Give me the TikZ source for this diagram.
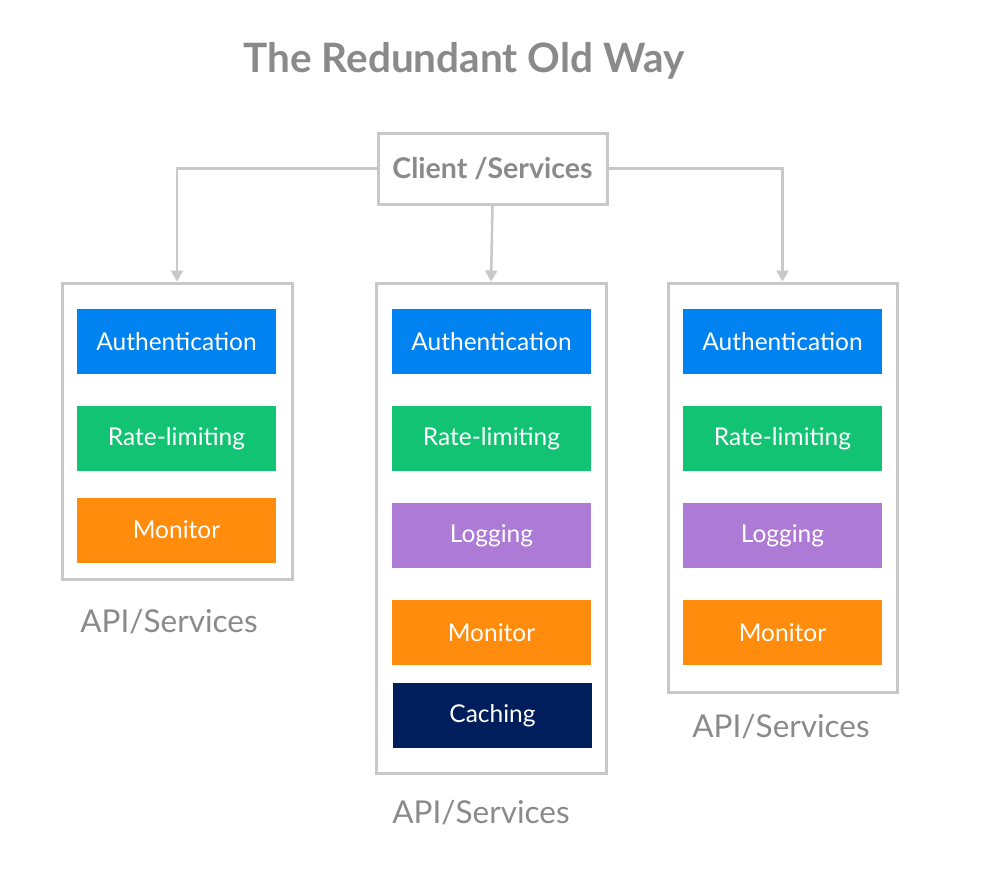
\documentclass[tikz,border=0pt]{standalone}
\usepackage{fontspec}
\setmainfont{Lato}
\usetikzlibrary{arrows.meta}
\definecolor{lgray}{HTML}{C8C8C8}
\definecolor{tgray}{HTML}{8A8A8A}
\definecolor{cblue}{HTML}{0082F0}
\definecolor{cgreen}{HTML}{13C374}
\definecolor{corange}{HTML}{FF8C0D}
\definecolor{cpurple}{HTML}{AD7BD6}
\definecolor{cnavy}{HTML}{001E5C}
\tikzset{
  container/.style={draw=lgray, line width=3pt, fill=white, inner sep=0pt},
  module/.style={inner sep=0pt, minimum width=199pt, minimum height=65pt, text=white, font=\fontsize{24.5}{28}\selectfont},
  apilabel/.style={text=tgray, font=\fontsize{31.5}{36}\selectfont},
  conn/.style={draw=lgray, line width=2.5pt, -{Triangle[width=12pt,length=11pt]}}
}
\begin{document}
\begin{tikzpicture}[x=1pt,y=-1pt]
\useasboundingbox (0,0) rectangle (981,871);
\node[text=tgray, font=\bfseries\fontsize{40.5}{46}\selectfont] (title) at (464,61) {The Redundant Old Way};
\node[container, minimum width=229pt, minimum height=71pt, text=tgray, font=\bfseries\fontsize{28.5}{32}\selectfont] (client) at (492.5,168.5) {Client /Services};

\node[container, minimum width=230pt, minimum height=296pt] (boxL) at (177,431) {};
\node[container, minimum width=230pt, minimum height=490pt] (boxM) at (491,528) {};
\node[container, minimum width=229pt, minimum height=409pt] (boxR) at (782.5,487.5) {};

\draw[conn] (client.west) -| (boxL.north);
\draw[conn] (client.south) -- (boxM.north);
\draw[conn] (client.east) -| (boxR.north);

% left
\node[module, fill=cblue] (authL) at (176.5,341.5) {Authentication};
\node[module, fill=cgreen] (rateL) at (176.5,438.5) {Rate-limiting};
\node[module, fill=corange] (monL) at (176.5,530) {Monitor};
% middle
\node[module, fill=cblue] (authM) at (491.5,341.5) {Authentication};
\node[module, fill=cgreen] (rateM) at (491.5,438.5) {Rate-limiting};
\node[module, fill=cpurple] (logM) at (491.5,535.5) {Logging};
\node[module, fill=corange] (monM) at (491.5,632.5) {Monitor};
\node[module, fill=cnavy] (cacheM) at (492.5,715.5) {Caching};
% right
\node[module, fill=cblue] (authR) at (782.5,341.5) {Authentication};
\node[module, fill=cgreen] (rateR) at (782.5,438.5) {Rate-limiting};
\node[module, fill=cpurple] (logR) at (782.5,535.5) {Logging};
\node[module, fill=corange] (monR) at (782.5,632.5) {Monitor};

\node[apilabel] (apiL) at (169,622) {API/Services};
\node[apilabel] (apiM) at (481,813) {API/Services};
\node[apilabel] (apiR) at (781,727) {API/Services};
\end{tikzpicture}
\end{document}
